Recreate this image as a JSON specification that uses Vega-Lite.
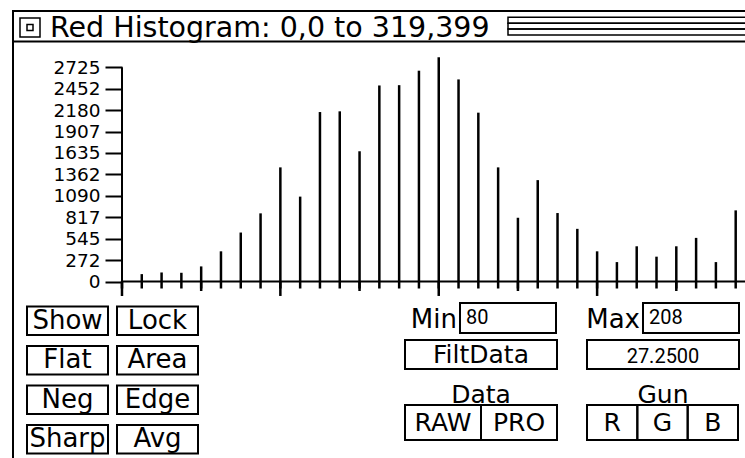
{
  "$schema": "https://vega.github.io/schema/vega-lite/v6.json",
  "width": 732,
  "height": 447,
  "autosize": {"type": "none"},
  "padding": {"left": 13, "top": 11, "right": 0, "bottom": 0},
  "background": "white",
  "config": {"view": {"stroke": null}, "font": "DejaVu Sans"},
  "datasets": {
    "histogram": [
      {"level": 80, "count": 0}, {"level": 84, "count": 94}, {"level": 88, "count": 115}, {"level": 92, "count": 111},
      {"level": 96, "count": 192}, {"level": 100, "count": 384}, {"level": 104, "count": 623}, {"level": 108, "count": 867},
      {"level": 112, "count": 1452}, {"level": 116, "count": 1080}, {"level": 120, "count": 2156}, {"level": 124, "count": 2165},
      {"level": 128, "count": 1657}, {"level": 132, "count": 2494}, {"level": 136, "count": 2498}, {"level": 140, "count": 2682},
      {"level": 144, "count": 2853}, {"level": 148, "count": 2571}, {"level": 152, "count": 2148}, {"level": 156, "count": 1452},
      {"level": 160, "count": 811}, {"level": 164, "count": 1290}, {"level": 168, "count": 871}, {"level": 172, "count": 670},
      {"level": 176, "count": 384}, {"level": 180, "count": 247}, {"level": 184, "count": 448}, {"level": 188, "count": 316},
      {"level": 192, "count": 448}, {"level": 196, "count": 555}, {"level": 200, "count": 247}, {"level": 204, "count": 905}
    ],
    "ui": [
      {"kind": "window", "part": "window"},
      {"kind": "titlebar", "part": "bar"},
      {"kind": "close", "part": "close"},
      {"kind": "title", "part": "title", "label": "Red Histogram: 0,0 to 319,399"},
      {"kind": "stripe", "part": "stripes", "stripe": 1},
      {"kind": "stripe", "part": "stripes", "stripe": 2},
      {"kind": "stripe", "part": "stripes", "stripe": 3},
      {"kind": "toggle", "label": "Show", "row": 1, "col": 1},
      {"kind": "toggle", "label": "Lock", "row": 1, "col": 2},
      {"kind": "toggle", "label": "Flat", "row": 2, "col": 1},
      {"kind": "toggle", "label": "Area", "row": 2, "col": 2},
      {"kind": "toggle", "label": "Neg", "row": 3, "col": 1},
      {"kind": "toggle", "label": "Edge", "row": 3, "col": 2},
      {"kind": "toggle", "label": "Sharp", "row": 4, "col": 1},
      {"kind": "toggle", "label": "Avg", "row": 4, "col": 2},
      {"kind": "field", "label": "Min", "value": "80", "row": 1, "col": 1},
      {"kind": "field", "label": "Max", "value": "208", "row": 1, "col": 2},
      {"kind": "button", "label": "FiltData", "row": 2, "col": 1},
      {"kind": "readout", "label": "27.2500", "row": 2, "col": 2},
      {"kind": "group", "label": "Data", "row": 3, "col": 1},
      {"kind": "group", "label": "Gun", "row": 3, "col": 2},
      {"kind": "data", "label": "RAW", "row": 4},
      {"kind": "data", "label": "PRO", "row": 4},
      {"kind": "gun", "label": "R", "row": 4},
      {"kind": "gun", "label": "G", "row": 4},
      {"kind": "gun", "label": "B", "row": 4}
    ]
  },
  "layer": [
    {
      "data": {"name": "histogram"},
      "mark": {"type": "rule", "color": "black", "strokeWidth": 2.5},
      "encoding": {
        "x": {"field": "level", "type": "quantitative", "scale": {"domain": [57.98, 205.88], "nice": false, "zero": false}, "axis": null},
        "y": {
          "field": "count", "type": "quantitative",
          "scale": {"domain": [-2245.5, 3441.5], "nice": false, "zero": false},
          "axis": {
            "orient": "left",
            "values": [0, 272, 545, 817, 1090, 1362, 1635, 1907, 2180, 2452, 2725],
            "format": "d", "offset": -109, "domain": false, "grid": false,
            "tickSize": 17, "tickWidth": 2, "tickColor": "black",
            "labelColor": "black", "labelFont": "DejaVu Sans", "labelFontSize": 18.5,
            "labelPadding": 5, "labelOverlap": false, "labelFlush": false, "title": null
          }
        },
        "y2": {"datum": -89}
      }
    },
    {
      "data": {"name": "histogram"},
      "transform": [{"filter": "datum.level == 80"}],
      "mark": {"type": "rule", "color": "black", "strokeWidth": 2},
      "encoding": {
        "x": {"field": "level", "type": "quantitative", "scale": {"domain": [57.98, 205.88], "nice": false, "zero": false}, "axis": null},
        "y": {"datum": 2725, "type": "quantitative", "scale": {"domain": [-2245.5, 3441.5], "nice": false, "zero": false}, "axis": null},
        "y2": {"datum": -184}
      }
    },
    {
      "data": {"name": "histogram"},
      "transform": [{"filter": "datum.level == 80"}],
      "mark": {"type": "rule", "color": "black", "strokeWidth": 2},
      "encoding": {
        "x": {"field": "level", "type": "quantitative", "scale": {"domain": [57.98, 205.88], "nice": false, "zero": false}, "axis": null},
        "x2": {"datum": 206},
        "y": {"datum": 0, "type": "quantitative", "scale": {"domain": [-2245.5, 3441.5], "nice": false, "zero": false}, "axis": null}
      }
    },
    {
      "data": {"name": "histogram"},
      "transform": [{"filter": "datum.level % 32 == 0"}],
      "mark": {"type": "rule", "color": "black", "strokeWidth": 2.5},
      "encoding": {
        "x": {"field": "level", "type": "quantitative", "scale": {"domain": [57.98, 205.88], "nice": false, "zero": false}, "axis": null},
        "y": {"datum": 0, "type": "quantitative", "scale": {"domain": [-2245.5, 3441.5], "nice": false, "zero": false}, "axis": null},
        "y2": {"datum": -121}
      }
    },
    {
      "data": {"name": "histogram"},
      "transform": [{"filter": "datum.level % 32 == 16"}],
      "mark": {"type": "rule", "color": "black", "strokeWidth": 2.5},
      "encoding": {
        "x": {"field": "level", "type": "quantitative", "scale": {"domain": [57.98, 205.88], "nice": false, "zero": false}, "axis": null},
        "y": {"datum": 0, "type": "quantitative", "scale": {"domain": [-2245.5, 3441.5], "nice": false, "zero": false}, "axis": null},
        "y2": {"datum": -184}
      }
    },
    {
      "data": {"name": "ui"},
      "transform": [{"filter": "datum.kind == 'window'"}],
      "mark": {"type": "rect", "filled": false, "color": "black", "strokeWidth": 2},
      "encoding": {
        "x": {"field": "part", "type": "nominal", "scale": {"type": "band", "domain": ["window"], "range": [0, 745], "paddingInner": 0, "paddingOuter": 0}, "axis": null},
        "y": {"field": "part", "type": "nominal", "scale": {"type": "band", "domain": ["window"], "range": [0, 460], "paddingInner": 0, "paddingOuter": 0}, "axis": null}
      }
    },
    {
      "data": {"name": "ui"},
      "transform": [{"filter": "datum.kind == 'titlebar'"}],
      "mark": {"type": "rect", "filled": false, "color": "black", "strokeWidth": 2},
      "encoding": {
        "x": {"field": "part", "type": "nominal", "scale": {"type": "band", "domain": ["bar"], "range": [0, 745], "paddingInner": 0, "paddingOuter": 0}, "axis": null},
        "y": {"field": "part", "type": "nominal", "scale": {"type": "band", "domain": ["bar"], "range": [0, 30.5], "paddingInner": 0, "paddingOuter": 0}, "axis": null}
      }
    },
    {
      "data": {"name": "ui"},
      "transform": [{"filter": "datum.kind == 'close'"}],
      "mark": {"type": "rect", "filled": false, "color": "black", "strokeWidth": 1.5},
      "encoding": {
        "x": {"field": "part", "type": "nominal", "scale": {"type": "band", "domain": ["close"], "range": [7, 27], "paddingInner": 0, "paddingOuter": 0}, "axis": null},
        "y": {"field": "part", "type": "nominal", "scale": {"type": "band", "domain": ["close"], "range": [7, 26], "paddingInner": 0, "paddingOuter": 0}, "axis": null}
      }
    },
    {
      "data": {"name": "ui"},
      "transform": [{"filter": "datum.kind == 'close'"}],
      "mark": {"type": "point", "shape": "square", "size": 36, "filled": false, "color": "black", "strokeWidth": 1.5, "opacity": 1},
      "encoding": {
        "x": {"field": "part", "type": "nominal", "scale": {"type": "band", "domain": ["close"], "range": [7, 27], "paddingInner": 0, "paddingOuter": 0}, "axis": null},
        "y": {"field": "part", "type": "nominal", "scale": {"type": "band", "domain": ["close"], "range": [7, 26], "paddingInner": 0, "paddingOuter": 0}, "axis": null}
      }
    },
    {
      "data": {"name": "ui"},
      "transform": [{"filter": "datum.kind == 'title'"}],
      "mark": {"type": "text", "align": "left", "baseline": "middle", "fontSize": 28.5, "font": "DejaVu Sans", "color": "black", "dy": 2},
      "encoding": {
        "x": {"field": "part", "type": "nominal", "bandPosition": 0, "scale": {"type": "band", "domain": ["title"], "range": [37, 480], "paddingInner": 0, "paddingOuter": 0}, "axis": null},
        "y": {"field": "part", "type": "nominal", "scale": {"type": "band", "domain": ["title"], "range": [0, 30.5], "paddingInner": 0, "paddingOuter": 0}, "axis": null},
        "text": {"field": "label"}
      }
    },
    {
      "data": {"name": "ui"},
      "transform": [{"filter": "datum.kind == 'stripe'"}],
      "mark": {"type": "rect", "filled": false, "color": "black", "strokeWidth": 1.5},
      "encoding": {
        "x": {"field": "part", "type": "nominal", "scale": {"type": "band", "domain": ["stripes"], "range": [495, 745], "paddingInner": 0, "paddingOuter": 0}, "axis": null},
        "y": {"field": "stripe", "type": "ordinal", "scale": {"type": "band", "domain": [1, 2, 3], "range": [6.3, 24], "paddingInner": 0, "paddingOuter": 0}, "axis": null}
      }
    },
    {
      "data": {"name": "ui"},
      "transform": [{"filter": "datum.kind == 'toggle'"}],
      "mark": {"type": "rect", "filled": false, "color": "black", "strokeWidth": 2},
      "encoding": {
        "x": {"field": "col", "type": "ordinal", "scale": {"type": "band", "domain": [1, 2], "range": [14, 185], "paddingInner": 0.1, "paddingOuter": 0}, "axis": null},
        "y": {"field": "row", "type": "ordinal", "scale": {"type": "band", "domain": [1, 2, 3, 4], "range": [295.5, 442.5], "paddingInner": 0.278, "paddingOuter": 0}, "axis": null}
      }
    },
    {
      "data": {"name": "ui"},
      "transform": [{"filter": "datum.kind == 'toggle'"}],
      "mark": {"type": "text", "align": "center", "baseline": "middle", "fontSize": 26, "font": "DejaVu Sans", "color": "black"},
      "encoding": {
        "x": {"field": "col", "type": "ordinal", "scale": {"type": "band", "domain": [1, 2], "range": [14, 185], "paddingInner": 0.1, "paddingOuter": 0}, "axis": null},
        "y": {"field": "row", "type": "ordinal", "scale": {"type": "band", "domain": [1, 2, 3, 4], "range": [295.5, 442.5], "paddingInner": 0.278, "paddingOuter": 0}, "axis": null},
        "text": {"field": "label"}
      }
    },
    {
      "data": {"name": "ui"},
      "transform": [{"filter": "datum.kind == 'field'"}],
      "mark": {"type": "rect", "filled": false, "color": "black", "strokeWidth": 2},
      "encoding": {
        "x": {"field": "col", "type": "ordinal", "scale": {"type": "band", "domain": [1, 2], "range": [447, 726], "paddingInner": 0.4754, "paddingOuter": 0}, "axis": null},
        "y": {"field": "row", "type": "ordinal", "scale": {"type": "band", "domain": [1], "range": [292, 322], "paddingInner": 0, "paddingOuter": 0}, "axis": null}
      }
    },
    {
      "data": {"name": "ui"},
      "transform": [{"filter": "datum.kind == 'field'"}],
      "mark": {"type": "text", "align": "left", "baseline": "middle", "fontSize": 20, "font": "Roboto", "color": "black", "dx": 6},
      "encoding": {
        "x": {"field": "col", "type": "ordinal", "bandPosition": 0, "scale": {"type": "band", "domain": [1, 2], "range": [447, 726], "paddingInner": 0.4754, "paddingOuter": 0}, "axis": null},
        "y": {"field": "row", "type": "ordinal", "scale": {"type": "band", "domain": [1], "range": [292, 322], "paddingInner": 0, "paddingOuter": 0}, "axis": null},
        "text": {"field": "value"}
      }
    },
    {
      "data": {"name": "ui"},
      "transform": [{"filter": "datum.kind == 'field'"}],
      "mark": {"type": "text", "align": "right", "baseline": "middle", "fontSize": 26, "font": "DejaVu Sans", "color": "black", "dx": -3, "dy": 2},
      "encoding": {
        "x": {"field": "col", "type": "ordinal", "bandPosition": 0, "scale": {"type": "band", "domain": [1, 2], "range": [447, 726], "paddingInner": 0.4754, "paddingOuter": 0}, "axis": null},
        "y": {"field": "row", "type": "ordinal", "scale": {"type": "band", "domain": [1], "range": [292, 322], "paddingInner": 0, "paddingOuter": 0}, "axis": null},
        "text": {"field": "label"}
      }
    },
    {
      "data": {"name": "ui"},
      "transform": [{"filter": "datum.kind == 'button' || datum.kind == 'readout'"}],
      "mark": {"type": "rect", "filled": false, "color": "black", "strokeWidth": 2},
      "encoding": {
        "x": {"field": "col", "type": "ordinal", "scale": {"type": "band", "domain": [1, 2], "range": [392, 726], "paddingInner": 0.1648, "paddingOuter": 0}, "axis": null},
        "y": {"field": "row", "type": "ordinal", "scale": {"type": "band", "domain": [2], "range": [329, 358], "paddingInner": 0, "paddingOuter": 0}, "axis": null}
      }
    },
    {
      "data": {"name": "ui"},
      "transform": [{"filter": "datum.kind == 'button'"}],
      "mark": {"type": "text", "align": "center", "baseline": "middle", "fontSize": 25, "font": "DejaVu Sans", "color": "black"},
      "encoding": {
        "x": {"field": "col", "type": "ordinal", "scale": {"type": "band", "domain": [1, 2], "range": [392, 726], "paddingInner": 0.1648, "paddingOuter": 0}, "axis": null},
        "y": {"field": "row", "type": "ordinal", "scale": {"type": "band", "domain": [2], "range": [329, 358], "paddingInner": 0, "paddingOuter": 0}, "axis": null},
        "text": {"field": "label"}
      }
    },
    {
      "data": {"name": "ui"},
      "transform": [{"filter": "datum.kind == 'readout'"}],
      "mark": {"type": "text", "align": "center", "baseline": "middle", "fontSize": 20, "font": "Roboto", "color": "black", "dy": 2},
      "encoding": {
        "x": {"field": "col", "type": "ordinal", "scale": {"type": "band", "domain": [1, 2], "range": [392, 726], "paddingInner": 0.1648, "paddingOuter": 0}, "axis": null},
        "y": {"field": "row", "type": "ordinal", "scale": {"type": "band", "domain": [2], "range": [329, 358], "paddingInner": 0, "paddingOuter": 0}, "axis": null},
        "text": {"field": "label"}
      }
    },
    {
      "data": {"name": "ui"},
      "transform": [{"filter": "datum.kind == 'group'"}],
      "mark": {"type": "text", "align": "center", "baseline": "middle", "fontSize": 25, "font": "DejaVu Sans", "color": "black"},
      "encoding": {
        "x": {"field": "col", "type": "ordinal", "scale": {"type": "band", "domain": [1, 2], "range": [392, 726], "paddingInner": 0.1648, "paddingOuter": 0}, "axis": null},
        "y": {"field": "row", "type": "ordinal", "scale": {"type": "band", "domain": [3], "range": [368, 399], "paddingInner": 0, "paddingOuter": 0}, "axis": null},
        "text": {"field": "label"}
      }
    },
    {
      "data": {"name": "ui"},
      "transform": [{"filter": "datum.kind == 'data'"}],
      "mark": {"type": "rect", "filled": false, "color": "black", "strokeWidth": 2},
      "encoding": {
        "x": {"field": "label", "type": "nominal", "scale": {"type": "band", "domain": ["RAW", "PRO"], "range": [392, 544], "paddingInner": 0, "paddingOuter": 0}, "axis": null},
        "y": {"field": "row", "type": "ordinal", "scale": {"type": "band", "domain": [4], "range": [394, 429], "paddingInner": 0, "paddingOuter": 0}, "axis": null}
      }
    },
    {
      "data": {"name": "ui"},
      "transform": [{"filter": "datum.kind == 'data'"}],
      "mark": {"type": "text", "align": "center", "baseline": "middle", "fontSize": 25, "font": "DejaVu Sans", "color": "black"},
      "encoding": {
        "x": {"field": "label", "type": "nominal", "scale": {"type": "band", "domain": ["RAW", "PRO"], "range": [392, 544], "paddingInner": 0, "paddingOuter": 0}, "axis": null},
        "y": {"field": "row", "type": "ordinal", "scale": {"type": "band", "domain": [4], "range": [394, 429], "paddingInner": 0, "paddingOuter": 0}, "axis": null},
        "text": {"field": "label"}
      }
    },
    {
      "data": {"name": "ui"},
      "transform": [{"filter": "datum.kind == 'gun'"}],
      "mark": {"type": "rect", "filled": false, "color": "black", "strokeWidth": 2},
      "encoding": {
        "x": {"field": "label", "type": "nominal", "scale": {"type": "band", "domain": ["R", "G", "B"], "range": [574, 725], "paddingInner": 0, "paddingOuter": 0}, "axis": null},
        "y": {"field": "row", "type": "ordinal", "scale": {"type": "band", "domain": [4], "range": [394, 429], "paddingInner": 0, "paddingOuter": 0}, "axis": null}
      }
    },
    {
      "data": {"name": "ui"},
      "transform": [{"filter": "datum.kind == 'gun'"}],
      "mark": {"type": "text", "align": "center", "baseline": "middle", "fontSize": 25, "font": "DejaVu Sans", "color": "black"},
      "encoding": {
        "x": {"field": "label", "type": "nominal", "scale": {"type": "band", "domain": ["R", "G", "B"], "range": [574, 725], "paddingInner": 0, "paddingOuter": 0}, "axis": null},
        "y": {"field": "row", "type": "ordinal", "scale": {"type": "band", "domain": [4], "range": [394, 429], "paddingInner": 0, "paddingOuter": 0}, "axis": null},
        "text": {"field": "label"}
      }
    }
  ],
  "resolve": {"scale": {"x": "independent", "y": "independent"}}
}
